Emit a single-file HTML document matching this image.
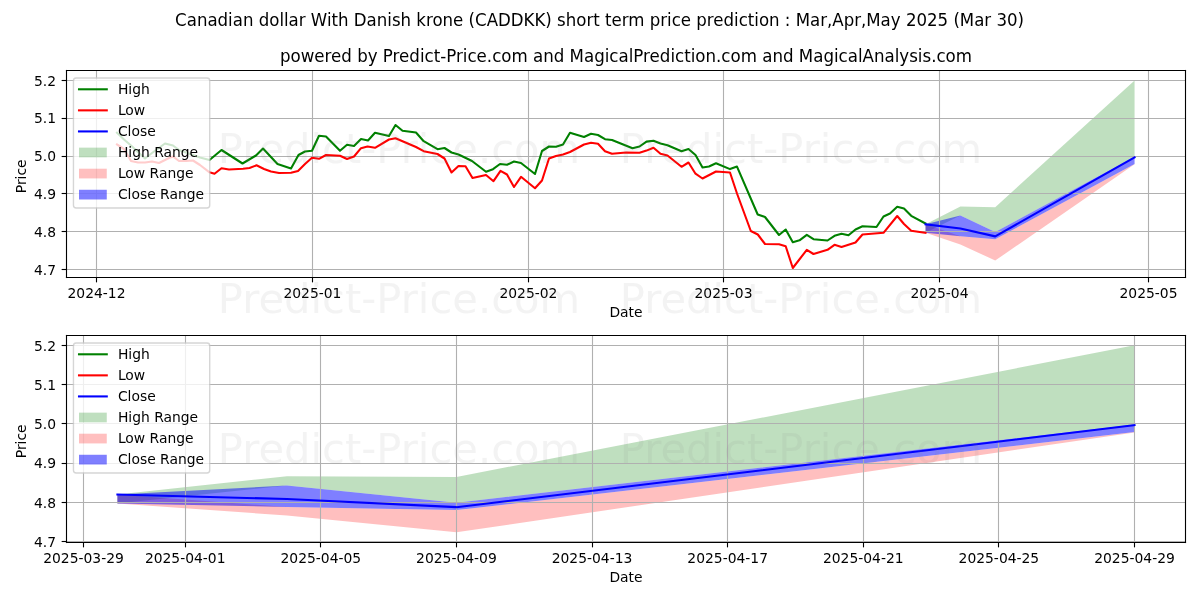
<!DOCTYPE html>
<html lang="en">
<head>
<meta charset="utf-8">
<title>CADDKK short term price prediction</title>
<style>
html,body{margin:0;padding:0;background:#ffffff;}
body{width:1200px;height:600px;overflow:hidden;font-family:"DejaVu Sans","Liberation Sans",sans-serif;}
svg{display:block;}
</style>
</head>
<body>
<svg width="1200" height="600" viewBox="0 0 864 432" version="1.1">
 
 <defs>
  <style type="text/css">*{stroke-linejoin: round; stroke-linecap: butt}</style>
 </defs>
 <g id="figure_1">
  <g id="patch_1">
   <path d="M 0 432 
L 864 432 
L 864 0 
L 0 0 
z
" style="fill: #ffffff"/>
  </g>
  <g id="axes_1">
   <g id="patch_2">
    <path d="M 47.88 199.8 
L 853.56 199.8 
L 853.56 50.76 
L 47.88 50.76 
z
" style="fill: #ffffff"/>
   </g>
   <g id="FillBetweenPolyCollection_1">
    <path d="M 666.402914 161.472276 
L 666.402914 167.597496 
L 691.483709 155.156494 
L 716.564503 167.053032 
L 816.887682 112.878864 
L 816.887682 57.888 
L 816.887682 57.888 
L 716.564503 149.249059 
L 691.483709 148.704595 
L 666.402914 161.472276 
z
" clip-path="url(#p3cd3cf3ed4)" style="fill: #008000; fill-opacity: 0.25"/>
   </g>
   <g id="FillBetweenPolyCollection_2">
    <path d="M 666.402914 161.472276 
L 666.402914 167.597496 
L 691.483709 175.955018 
L 716.564503 187.606548 
L 816.887682 118.323504 
L 816.887682 118.051272 
L 816.887682 118.051272 
L 716.564503 172.22544 
L 691.483709 170.074807 
L 666.402914 161.472276 
z
" clip-path="url(#p3cd3cf3ed4)" style="fill: #ff0000; fill-opacity: 0.25"/>
   </g>
   <g id="FillBetweenPolyCollection_3">
    <path d="M 666.402914 161.472276 
L 666.402914 167.597496 
L 691.483709 170.074807 
L 716.564503 172.22544 
L 816.887682 118.051272 
L 816.887682 112.878864 
L 816.887682 112.878864 
L 716.564503 167.053032 
L 691.483709 155.156494 
L 666.402914 161.472276 
z
" clip-path="url(#p3cd3cf3ed4)" style="fill: #0000ff; fill-opacity: 0.5"/>
   </g>
   <g id="matplotlib.axis_1">
    <g id="xtick_1">
     <g id="line2d_1">
      <path d="M 69.4800 199.8 L 69.4800 50.76" clip-path="url(#p3cd3cf3ed4)" style="fill: none; stroke: #b0b0b0; stroke-width: 0.8; stroke-linecap: square"/>
     </g>
     <g id="line2d_2">
      <defs>
       <path id="m1504cfccaf" d="M 0 0 
L 0 3.5 
" style="stroke: #000000; stroke-width: 0.8"/>
      </defs>
      <g>
       <use href="#m1504cfccaf" x="69.4800" y="199.8" style="stroke: #000000; stroke-width: 0.8"/>
      </g>
     </g>
     <g id="text_1">
      <text style="font-size: 10px; font-family: 'DejaVu Sans', 'Liberation Sans', sans-serif; text-anchor: middle" x="69.48" y="214.398438" transform="rotate(-0 69.48 214.398438)">2024-12</text>
     </g>
    </g>
    <g id="xtick_2">
     <g id="line2d_3">
      <path d="M 225.0000 199.8 L 225.0000 50.76" clip-path="url(#p3cd3cf3ed4)" style="fill: none; stroke: #b0b0b0; stroke-width: 0.8; stroke-linecap: square"/>
     </g>
     <g id="line2d_4">
      <g>
       <use href="#m1504cfccaf" x="225.0000" y="199.8" style="stroke: #000000; stroke-width: 0.8"/>
      </g>
     </g>
     <g id="text_2">
      <text style="font-size: 10px; font-family: 'DejaVu Sans', 'Liberation Sans', sans-serif; text-anchor: middle" x="224.980927" y="214.398438" transform="rotate(-0 224.980927 214.398438)">2025-01</text>
     </g>
    </g>
    <g id="xtick_3">
     <g id="line2d_5">
      <path d="M 380.5200 199.8 L 380.5200 50.76" clip-path="url(#p3cd3cf3ed4)" style="fill: none; stroke: #b0b0b0; stroke-width: 0.8; stroke-linecap: square"/>
     </g>
     <g id="line2d_6">
      <g>
       <use href="#m1504cfccaf" x="380.5200" y="199.8" style="stroke: #000000; stroke-width: 0.8"/>
      </g>
     </g>
     <g id="text_3">
      <text style="font-size: 10px; font-family: 'DejaVu Sans', 'Liberation Sans', sans-serif; text-anchor: middle" x="380.481854" y="214.398438" transform="rotate(-0 380.481854 214.398438)">2025-02</text>
     </g>
    </g>
    <g id="xtick_4">
     <g id="line2d_7">
      <path d="M 520.9200 199.8 L 520.9200 50.76" clip-path="url(#p3cd3cf3ed4)" style="fill: none; stroke: #b0b0b0; stroke-width: 0.8; stroke-linecap: square"/>
     </g>
     <g id="line2d_8">
      <g>
       <use href="#m1504cfccaf" x="520.9200" y="199.8" style="stroke: #000000; stroke-width: 0.8"/>
      </g>
     </g>
     <g id="text_4">
      <text style="font-size: 10px; font-family: 'DejaVu Sans', 'Liberation Sans', sans-serif; text-anchor: middle" x="520.934305" y="214.398438" transform="rotate(-0 520.934305 214.398438)">2025-03</text>
     </g>
    </g>
    <g id="xtick_5">
     <g id="line2d_9">
      <path d="M 676.4400 199.8 L 676.4400 50.76" clip-path="url(#p3cd3cf3ed4)" style="fill: none; stroke: #b0b0b0; stroke-width: 0.8; stroke-linecap: square"/>
     </g>
     <g id="line2d_10">
      <g>
       <use href="#m1504cfccaf" x="676.4400" y="199.8" style="stroke: #000000; stroke-width: 0.8"/>
      </g>
     </g>
     <g id="text_5">
      <text style="font-size: 10px; font-family: 'DejaVu Sans', 'Liberation Sans', sans-serif; text-anchor: middle" x="676.435232" y="214.398438" transform="rotate(-0 676.435232 214.398438)">2025-04</text>
     </g>
    </g>
    <g id="xtick_6">
     <g id="line2d_11">
      <path d="M 826.9200 199.8 L 826.9200 50.76" clip-path="url(#p3cd3cf3ed4)" style="fill: none; stroke: #b0b0b0; stroke-width: 0.8; stroke-linecap: square"/>
     </g>
     <g id="line2d_12">
      <g>
       <use href="#m1504cfccaf" x="826.9200" y="199.8" style="stroke: #000000; stroke-width: 0.8"/>
      </g>
     </g>
     <g id="text_6">
      <text style="font-size: 10px; font-family: 'DejaVu Sans', 'Liberation Sans', sans-serif; text-anchor: middle" x="826.92" y="214.398438" transform="rotate(-0 826.92 214.398438)">2025-05</text>
     </g>
    </g>
    <g id="text_7">
     <text style="font-size: 10px; font-family: 'DejaVu Sans', 'Liberation Sans', sans-serif; text-anchor: middle" x="450.72" y="228.076562" transform="rotate(-0 450.72 228.076562)">Date</text>
    </g>
   </g>
   <g id="matplotlib.axis_2">
    <g id="ytick_1">
     <g id="line2d_13">
      <path d="M 47.88 194.0400 L 853.56 194.0400" clip-path="url(#p3cd3cf3ed4)" style="fill: none; stroke: #b0b0b0; stroke-width: 0.8; stroke-linecap: square"/>
     </g>
     <g id="line2d_14">
      <defs>
       <path id="m5d545ce8f8" d="M 0 0 
L -3.5 0 
" style="stroke: #000000; stroke-width: 0.8"/>
      </defs>
      <g>
       <use href="#m5d545ce8f8" x="47.88" y="194.0400" style="stroke: #000000; stroke-width: 0.8"/>
      </g>
     </g>
     <g id="text_8">
      <text style="font-size: 10px; font-family: 'DejaVu Sans', 'Liberation Sans', sans-serif; text-anchor: end" x="40.38" y="197.803219" transform="rotate(-0 40.38 197.803219)">4.7</text>
     </g>
    </g>
    <g id="ytick_2">
     <g id="line2d_15">
      <path d="M 47.88 166.6800 L 853.56 166.6800" clip-path="url(#p3cd3cf3ed4)" style="fill: none; stroke: #b0b0b0; stroke-width: 0.8; stroke-linecap: square"/>
     </g>
     <g id="line2d_16">
      <g>
       <use href="#m5d545ce8f8" x="47.88" y="166.6800" style="stroke: #000000; stroke-width: 0.8"/>
      </g>
     </g>
     <g id="text_9">
      <text style="font-size: 10px; font-family: 'DejaVu Sans', 'Liberation Sans', sans-serif; text-anchor: end" x="40.38" y="170.580019" transform="rotate(-0 40.38 170.580019)">4.8</text>
     </g>
    </g>
    <g id="ytick_3">
     <g id="line2d_17">
      <path d="M 47.88 139.3200 L 853.56 139.3200" clip-path="url(#p3cd3cf3ed4)" style="fill: none; stroke: #b0b0b0; stroke-width: 0.8; stroke-linecap: square"/>
     </g>
     <g id="line2d_18">
      <g>
       <use href="#m5d545ce8f8" x="47.88" y="139.3200" style="stroke: #000000; stroke-width: 0.8"/>
      </g>
     </g>
     <g id="text_10">
      <text style="font-size: 10px; font-family: 'DejaVu Sans', 'Liberation Sans', sans-serif; text-anchor: end" x="40.38" y="143.356819" transform="rotate(-0 40.38 143.356819)">4.9</text>
     </g>
    </g>
    <g id="ytick_4">
     <g id="line2d_19">
      <path d="M 47.88 112.6800 L 853.56 112.6800" clip-path="url(#p3cd3cf3ed4)" style="fill: none; stroke: #b0b0b0; stroke-width: 0.8; stroke-linecap: square"/>
     </g>
     <g id="line2d_20">
      <g>
       <use href="#m5d545ce8f8" x="47.88" y="112.6800" style="stroke: #000000; stroke-width: 0.8"/>
      </g>
     </g>
     <g id="text_11">
      <text style="font-size: 10px; font-family: 'DejaVu Sans', 'Liberation Sans', sans-serif; text-anchor: end" x="40.38" y="116.133619" transform="rotate(-0 40.38 116.133619)">5.0</text>
     </g>
    </g>
    <g id="ytick_5">
     <g id="line2d_21">
      <path d="M 47.88 85.3200 L 853.56 85.3200" clip-path="url(#p3cd3cf3ed4)" style="fill: none; stroke: #b0b0b0; stroke-width: 0.8; stroke-linecap: square"/>
     </g>
     <g id="line2d_22">
      <g>
       <use href="#m5d545ce8f8" x="47.88" y="85.3200" style="stroke: #000000; stroke-width: 0.8"/>
      </g>
     </g>
     <g id="text_12">
      <text style="font-size: 10px; font-family: 'DejaVu Sans', 'Liberation Sans', sans-serif; text-anchor: end" x="40.38" y="88.910419" transform="rotate(-0 40.38 88.910419)">5.1</text>
     </g>
    </g>
    <g id="ytick_6">
     <g id="line2d_23">
      <path d="M 47.88 57.9600 L 853.56 57.9600" clip-path="url(#p3cd3cf3ed4)" style="fill: none; stroke: #b0b0b0; stroke-width: 0.8; stroke-linecap: square"/>
     </g>
     <g id="line2d_24">
      <g>
       <use href="#m5d545ce8f8" x="47.88" y="57.9600" style="stroke: #000000; stroke-width: 0.8"/>
      </g>
     </g>
     <g id="text_13">
      <text style="font-size: 10px; font-family: 'DejaVu Sans', 'Liberation Sans', sans-serif; text-anchor: end" x="40.38" y="61.687219" transform="rotate(-0 40.38 61.687219)">5.2</text>
     </g>
    </g>
    <g id="text_14">
     <text style="font-size: 10px; font-family: 'DejaVu Sans', 'Liberation Sans', sans-serif; text-anchor: middle" x="18.397188" y="126.936" transform="rotate(-90 18.397188 126.936)">Price</text>
    </g>
   </g>
   <g id="line2d_25">
    <path d="M 84.24 95.616 
L 89.28 100.44 
L 94.32 104.76 
L 104.4 114.12 
L 109.44 110.16 
L 118.8 103.32 
L 124.56 104.76 
L 128.88 108 
L 138.96 111.6 
L 144 113.4 
L 150.84 115.2 
L 159.48 108 
L 174.6 117.72 
L 184.32 111.96 
L 189.36 106.92 
L 199.8 118.08 
L 209.52 121.32 
L 214.92 111.6 
L 219.6 109.08 
L 224.64 108.576 
L 229.68 97.776 
L 234.72 98.28 
L 244.8 108.576 
L 249.84 104.256 
L 254.88 105.12 
L 259.92 100.08 
L 264.96 101.16 
L 270 95.616 
L 280.08 97.92 
L 284.76 90 
L 289.8 94.176 
L 299.52 95.4 
L 305.064 101.664 
L 315 107.424 
L 320.04 106.56 
L 325.08 109.8 
L 330.12 111.24 
L 339.84 115.92 
L 349.92 123.696 
L 354.96 121.824 
L 360 118.08 
L 365.04 118.656 
L 370.08 116.28 
L 375.12 117.36 
L 385.2 125.28 
L 390.24 108.72 
L 395.28 105.48 
L 400.32 105.696 
L 405.36 104.04 
L 410.4 95.616 
L 420.48 98.64 
L 425.52 96.336 
L 430.56 97.2 
L 435.6 100.224 
L 440.64 100.8 
L 455.4 106.704 
L 460.44 105.48 
L 465.48 101.952 
L 470.52 101.376 
L 475.56 103.32 
L 480.6 104.544 
L 490.68 108.864 
L 495.72 107.28 
L 500.76 111.6 
L 505.8 120.6 
L 510.48 119.88 
L 515.52 117.504 
L 525.6 121.752 
L 530.64 119.952 
L 545.544 154.44 
L 550.8 156.24 
L 560.88 169.2 
L 565.704 165.24 
L 570.816 174.384 
L 575.64 173.016 
L 580.896 169.056 
L 585.72 172.224 
L 595.8 173.16 
L 600.84 169.776 
L 605.88 168.264 
L 610.92 169.416 
L 615.96 165.24 
L 621 162.864 
L 631.08 163.44 
L 636.12 155.88 
L 640.8 153.72 
L 645.984 148.896 
L 650.88 150.12 
L 656.064 155.376 
L 666.36 160.92 
" clip-path="url(#p3cd3cf3ed4)" style="fill: none; stroke: #008000; stroke-width: 1.5; stroke-linecap: square"/>
   </g>
   <g id="line2d_26">
    <path d="M 84.24 104.04 
L 89.28 107.28 
L 94.32 115.92 
L 99.36 117 
L 104.4 117 
L 109.44 116.28 
L 114.48 117.36 
L 121.68 113.76 
L 124.56 112.68 
L 128.88 115.92 
L 133.92 115.92 
L 138.96 115.56 
L 144 118.8 
L 150.84 124.056 
L 154.44 125.136 
L 159.48 121.176 
L 164.88 122.04 
L 174.96 121.464 
L 179.64 120.96 
L 184.68 119.016 
L 190.08 121.68 
L 195.12 123.48 
L 200.88 124.56 
L 209.52 124.416 
L 214.56 123.12 
L 219.6 118.08 
L 224.64 113.616 
L 229.68 114.336 
L 234.72 111.6 
L 244.8 112.104 
L 249.84 114.48 
L 254.88 112.68 
L 259.92 106.704 
L 264.6 105.48 
L 270 106.416 
L 280.08 100.44 
L 284.76 99.504 
L 299.52 105.84 
L 305.064 108.864 
L 315 110.88 
L 320.04 114.12 
L 325.08 124.2 
L 330.12 119.52 
L 335.16 119.736 
L 340.2 128.16 
L 349.92 126 
L 355.32 130.464 
L 360.36 122.976 
L 365.04 125.64 
L 370.08 134.64 
L 375.12 127.296 
L 385.2 135.504 
L 390.24 129.96 
L 395.28 114.12 
L 400.32 112.32 
L 405.36 111.24 
L 410.4 109.44 
L 420.48 104.04 
L 425.52 102.816 
L 430.56 103.536 
L 435.6 108.864 
L 440.64 110.736 
L 450.72 109.8 
L 460.44 109.944 
L 465.48 108.432 
L 470.52 106.416 
L 475.56 110.736 
L 480.6 111.96 
L 490.68 120.096 
L 495.72 117 
L 500.76 125.064 
L 505.8 128.52 
L 515.52 123.48 
L 525.6 124.2 
L 530.64 139.32 
L 540.576 166.32 
L 545.616 168.84 
L 550.8 175.68 
L 560.88 175.896 
L 565.704 177.264 
L 570.816 192.96 
L 580.896 179.856 
L 585.72 182.88 
L 595.8 179.856 
L 600.84 176.256 
L 605.88 177.84 
L 615.96 174.6 
L 621 168.84 
L 636.12 167.616 
L 645.984 155.52 
L 650.88 161.28 
L 656.064 166.176 
L 666.36 167.616 
" clip-path="url(#p3cd3cf3ed4)" style="fill: none; stroke: #ff0000; stroke-width: 1.5; stroke-linecap: square"/>
   </g>
   <g id="line2d_27">
    <path d="M 666.402914 161.472276 
L 691.483709 164.521274 
L 716.564503 170.1837 
L 816.887682 113.287212 
" clip-path="url(#p3cd3cf3ed4)" style="fill: none; stroke: #0000ff; stroke-width: 1.5; stroke-linecap: square"/>
   </g>
   <g id="patch_3">
    <path d="M 47.88 199.8 
L 47.88 50.76 
" style="fill: none; stroke: #000000; stroke-width: 0.8; stroke-linejoin: miter; stroke-linecap: square"/>
   </g>
   <g id="patch_4">
    <path d="M 853.56 199.8 
L 853.56 50.76 
" style="fill: none; stroke: #000000; stroke-width: 0.8; stroke-linejoin: miter; stroke-linecap: square"/>
   </g>
   <g id="patch_5">
    <path d="M 47.88 199.8 
L 853.56 199.8 
" style="fill: none; stroke: #000000; stroke-width: 0.8; stroke-linejoin: miter; stroke-linecap: square"/>
   </g>
   <g id="patch_6">
    <path d="M 47.88 50.76 
L 853.56 50.76 
" style="fill: none; stroke: #000000; stroke-width: 0.8; stroke-linejoin: miter; stroke-linecap: square"/>
   </g>
   <g id="text_15">
    <text style="font-size: 12px; font-family: 'DejaVu Sans', 'Liberation Sans', sans-serif; text-anchor: middle" x="450.72" y="44.76" transform="translate(450.72 44.76) scale(1 1.08) translate(-450.72 -44.76)">powered by Predict-Price.com and MagicalPrediction.com and MagicalAnalysis.com</text>
   </g>
   <g id="legend_1">
    <g id="patch_7">
     <path d="M 54.88 149.71075 
L 148.990938 149.71075 
Q 150.990938 149.71075 150.990938 147.71075 
L 150.990938 58.192 
Q 150.990938 56.192 148.990938 56.192 
L 54.88 56.192 
Q 52.88 56.192 52.88 58.192 
L 52.88 147.71075 
Q 52.88 149.71075 54.88 149.71075 
z
" style="fill: #ffffff; opacity: 0.8; stroke: #cccccc; stroke-linejoin: miter"/>
    </g>
    <g id="line2d_28">
     <path d="M 56.88 64.290437 
L 66.88 64.290437 
L 76.88 64.290437 
" style="fill: none; stroke: #008000; stroke-width: 1.5; stroke-linecap: square"/>
    </g>
    <g id="text_16">
     <text style="font-size: 10px; font-family: 'DejaVu Sans', 'Liberation Sans', sans-serif; text-anchor: start" x="84.88" y="67.790437" transform="rotate(-0 84.88 67.790437)">High</text>
    </g>
    <g id="line2d_29">
     <path d="M 56.88 79.458562 
L 66.88 79.458562 
L 76.88 79.458562 
" style="fill: none; stroke: #ff0000; stroke-width: 1.5; stroke-linecap: square"/>
    </g>
    <g id="text_17">
     <text style="font-size: 10px; font-family: 'DejaVu Sans', 'Liberation Sans', sans-serif; text-anchor: start" x="84.88" y="82.958562" transform="rotate(-0 84.88 82.958562)">Low</text>
    </g>
    <g id="line2d_30">
     <path d="M 56.88 94.626688 
L 66.88 94.626688 
L 76.88 94.626688 
" style="fill: none; stroke: #0000ff; stroke-width: 1.5; stroke-linecap: square"/>
    </g>
    <g id="text_18">
     <text style="font-size: 10px; font-family: 'DejaVu Sans', 'Liberation Sans', sans-serif; text-anchor: start" x="84.88" y="98.126688" transform="rotate(-0 84.88 98.126688)">Close</text>
    </g>
    <g id="patch_8">
     <path d="M 56.88 113.294812 
L 76.88 113.294812 
L 76.88 106.294812 
L 56.88 106.294812 
z
" style="fill: #008000; fill-opacity: 0.25"/>
    </g>
    <g id="text_19">
     <text style="font-size: 10px; font-family: 'DejaVu Sans', 'Liberation Sans', sans-serif; text-anchor: start" x="84.88" y="113.294812" transform="rotate(-0 84.88 113.294812)">High Range</text>
    </g>
    <g id="patch_9">
     <path d="M 56.88 128.462938 
L 76.88 128.462938 
L 76.88 121.462938 
L 56.88 121.462938 
z
" style="fill: #ff0000; fill-opacity: 0.25"/>
    </g>
    <g id="text_20">
     <text style="font-size: 10px; font-family: 'DejaVu Sans', 'Liberation Sans', sans-serif; text-anchor: start" x="84.88" y="128.462938" transform="rotate(-0 84.88 128.462938)">Low Range</text>
    </g>
    <g id="patch_10">
     <path d="M 56.88 143.631062 
L 76.88 143.631062 
L 76.88 136.631062 
L 56.88 136.631062 
z
" style="fill: #0000ff; fill-opacity: 0.5"/>
    </g>
    <g id="text_21">
     <text style="font-size: 10px; font-family: 'DejaVu Sans', 'Liberation Sans', sans-serif; text-anchor: start" x="84.88" y="143.631062" transform="rotate(-0 84.88 143.631062)">Close Range</text>
    </g>
   </g>
  </g>
  <g id="axes_2">
   <g id="patch_11">
    <path d="M 47.88 390.6 
L 853.56 390.6 
L 853.56 241.56 
L 47.88 241.56 
z
" style="fill: #ffffff"/>
   </g>
   <g id="FillBetweenPolyCollection_4">
    <path d="M 84.530323 356.117904 
L 84.530323 362.474784 
L 206.581935 349.563254 
L 328.633548 361.909728 
L 816.84 305.686656 
L 816.84 248.616 
L 816.84 248.616 
L 328.633548 343.432397 
L 206.581935 342.867341 
L 84.530323 356.117904 
z
" clip-path="url(#pe5d304257f)" style="fill: #008000; fill-opacity: 0.25"/>
   </g>
   <g id="FillBetweenPolyCollection_5">
    <path d="M 84.530323 356.117904 
L 84.530323 362.474784 
L 206.581935 371.148394 
L 328.633548 383.240592 
L 816.84 311.337216 
L 816.84 311.054688 
L 816.84 311.054688 
L 328.633548 367.27776 
L 206.581935 365.045789 
L 84.530323 356.117904 
z
" clip-path="url(#pe5d304257f)" style="fill: #ff0000; fill-opacity: 0.25"/>
   </g>
   <g id="FillBetweenPolyCollection_6">
    <path d="M 84.530323 356.117904 
L 84.530323 362.474784 
L 206.581935 365.045789 
L 328.633548 367.27776 
L 816.84 311.054688 
L 816.84 305.686656 
L 816.84 305.686656 
L 328.633548 361.909728 
L 206.581935 349.563254 
L 84.530323 356.117904 
z
" clip-path="url(#pe5d304257f)" style="fill: #0000ff; fill-opacity: 0.5"/>
   </g>
   <g id="matplotlib.axis_3">
    <g id="xtick_7">
     <g id="line2d_31">
      <path d="M 60.1200 390.6 L 60.1200 241.56" clip-path="url(#pe5d304257f)" style="fill: none; stroke: #b0b0b0; stroke-width: 0.8; stroke-linecap: square"/>
     </g>
     <g id="line2d_32">
      <g>
       <use href="#m1504cfccaf" x="60.1200" y="390.6" style="stroke: #000000; stroke-width: 0.8"/>
      </g>
     </g>
     <g id="text_22">
      <text style="font-size: 10px; font-family: 'DejaVu Sans', 'Liberation Sans', sans-serif; text-anchor: middle" x="60.12" y="405.198438" transform="rotate(-0 60.12 405.198438)">2025-03-29</text>
     </g>
    </g>
    <g id="xtick_8">
     <g id="line2d_33">
      <path d="M 133.5600 390.6 L 133.5600 241.56" clip-path="url(#pe5d304257f)" style="fill: none; stroke: #b0b0b0; stroke-width: 0.8; stroke-linecap: square"/>
     </g>
     <g id="line2d_34">
      <g>
       <use href="#m1504cfccaf" x="133.5600" y="390.6" style="stroke: #000000; stroke-width: 0.8"/>
      </g>
     </g>
     <g id="text_23">
      <text style="font-size: 10px; font-family: 'DejaVu Sans', 'Liberation Sans', sans-serif; text-anchor: middle" x="133.350968" y="405.198438" transform="rotate(-0 133.350968 405.198438)">2025-04-01</text>
     </g>
    </g>
    <g id="xtick_9">
     <g id="line2d_35">
      <path d="M 230.7600 390.6 L 230.7600 241.56" clip-path="url(#pe5d304257f)" style="fill: none; stroke: #b0b0b0; stroke-width: 0.8; stroke-linecap: square"/>
     </g>
     <g id="line2d_36">
      <g>
       <use href="#m1504cfccaf" x="230.7600" y="390.6" style="stroke: #000000; stroke-width: 0.8"/>
      </g>
     </g>
     <g id="text_24">
      <text style="font-size: 10px; font-family: 'DejaVu Sans', 'Liberation Sans', sans-serif; text-anchor: middle" x="230.992258" y="405.198438" transform="rotate(-0 230.992258 405.198438)">2025-04-05</text>
     </g>
    </g>
    <g id="xtick_10">
     <g id="line2d_37">
      <path d="M 328.6800 390.6 L 328.6800 241.56" clip-path="url(#pe5d304257f)" style="fill: none; stroke: #b0b0b0; stroke-width: 0.8; stroke-linecap: square"/>
     </g>
     <g id="line2d_38">
      <g>
       <use href="#m1504cfccaf" x="328.6800" y="390.6" style="stroke: #000000; stroke-width: 0.8"/>
      </g>
     </g>
     <g id="text_25">
      <text style="font-size: 10px; font-family: 'DejaVu Sans', 'Liberation Sans', sans-serif; text-anchor: middle" x="328.633548" y="405.198438" transform="rotate(-0 328.633548 405.198438)">2025-04-09</text>
     </g>
    </g>
    <g id="xtick_11">
     <g id="line2d_39">
      <path d="M 426.6000 390.6 L 426.6000 241.56" clip-path="url(#pe5d304257f)" style="fill: none; stroke: #b0b0b0; stroke-width: 0.8; stroke-linecap: square"/>
     </g>
     <g id="line2d_40">
      <g>
       <use href="#m1504cfccaf" x="426.6000" y="390.6" style="stroke: #000000; stroke-width: 0.8"/>
      </g>
     </g>
     <g id="text_26">
      <text style="font-size: 10px; font-family: 'DejaVu Sans', 'Liberation Sans', sans-serif; text-anchor: middle" x="426.274839" y="405.198438" transform="rotate(-0 426.274839 405.198438)">2025-04-13</text>
     </g>
    </g>
    <g id="xtick_12">
     <g id="line2d_41">
      <path d="M 523.8000 390.6 L 523.8000 241.56" clip-path="url(#pe5d304257f)" style="fill: none; stroke: #b0b0b0; stroke-width: 0.8; stroke-linecap: square"/>
     </g>
     <g id="line2d_42">
      <g>
       <use href="#m1504cfccaf" x="523.8000" y="390.6" style="stroke: #000000; stroke-width: 0.8"/>
      </g>
     </g>
     <g id="text_27">
      <text style="font-size: 10px; font-family: 'DejaVu Sans', 'Liberation Sans', sans-serif; text-anchor: middle" x="523.916129" y="405.198438" transform="rotate(-0 523.916129 405.198438)">2025-04-17</text>
     </g>
    </g>
    <g id="xtick_13">
     <g id="line2d_43">
      <path d="M 621.7200 390.6 L 621.7200 241.56" clip-path="url(#pe5d304257f)" style="fill: none; stroke: #b0b0b0; stroke-width: 0.8; stroke-linecap: square"/>
     </g>
     <g id="line2d_44">
      <g>
       <use href="#m1504cfccaf" x="621.7200" y="390.6" style="stroke: #000000; stroke-width: 0.8"/>
      </g>
     </g>
     <g id="text_28">
      <text style="font-size: 10px; font-family: 'DejaVu Sans', 'Liberation Sans', sans-serif; text-anchor: middle" x="621.557419" y="405.198438" transform="rotate(-0 621.557419 405.198438)">2025-04-21</text>
     </g>
    </g>
    <g id="xtick_14">
     <g id="line2d_45">
      <path d="M 718.9200 390.6 L 718.9200 241.56" clip-path="url(#pe5d304257f)" style="fill: none; stroke: #b0b0b0; stroke-width: 0.8; stroke-linecap: square"/>
     </g>
     <g id="line2d_46">
      <g>
       <use href="#m1504cfccaf" x="718.9200" y="390.6" style="stroke: #000000; stroke-width: 0.8"/>
      </g>
     </g>
     <g id="text_29">
      <text style="font-size: 10px; font-family: 'DejaVu Sans', 'Liberation Sans', sans-serif; text-anchor: middle" x="719.19871" y="405.198438" transform="rotate(-0 719.19871 405.198438)">2025-04-25</text>
     </g>
    </g>
    <g id="xtick_15">
     <g id="line2d_47">
      <path d="M 816.8400 390.6 L 816.8400 241.56" clip-path="url(#pe5d304257f)" style="fill: none; stroke: #b0b0b0; stroke-width: 0.8; stroke-linecap: square"/>
     </g>
     <g id="line2d_48">
      <g>
       <use href="#m1504cfccaf" x="816.8400" y="390.6" style="stroke: #000000; stroke-width: 0.8"/>
      </g>
     </g>
     <g id="text_30">
      <text style="font-size: 10px; font-family: 'DejaVu Sans', 'Liberation Sans', sans-serif; text-anchor: middle" x="816.84" y="405.198438" transform="rotate(-0 816.84 405.198438)">2025-04-29</text>
     </g>
    </g>
    <g id="text_31">
     <text style="font-size: 10px; font-family: 'DejaVu Sans', 'Liberation Sans', sans-serif; text-anchor: middle" x="450.72" y="418.876562" transform="rotate(-0 450.72 418.876562)">Date</text>
    </g>
   </g>
   <g id="matplotlib.axis_4">
    <g id="ytick_7">
     <g id="line2d_49">
      <path d="M 47.88 389.8800 L 853.56 389.8800" clip-path="url(#pe5d304257f)" style="fill: none; stroke: #b0b0b0; stroke-width: 0.8; stroke-linecap: square"/>
     </g>
     <g id="line2d_50">
      <g>
       <use href="#m5d545ce8f8" x="47.88" y="389.8800" style="stroke: #000000; stroke-width: 0.8"/>
      </g>
     </g>
     <g id="text_32">
      <text style="font-size: 10px; font-family: 'DejaVu Sans', 'Liberation Sans', sans-serif; text-anchor: end" x="40.38" y="393.679219" transform="rotate(-0 40.38 393.679219)">4.7</text>
     </g>
    </g>
    <g id="ytick_8">
     <g id="line2d_51">
      <path d="M 47.88 361.8000 L 853.56 361.8000" clip-path="url(#pe5d304257f)" style="fill: none; stroke: #b0b0b0; stroke-width: 0.8; stroke-linecap: square"/>
     </g>
     <g id="line2d_52">
      <g>
       <use href="#m5d545ce8f8" x="47.88" y="361.8000" style="stroke: #000000; stroke-width: 0.8"/>
      </g>
     </g>
     <g id="text_33">
      <text style="font-size: 10px; font-family: 'DejaVu Sans', 'Liberation Sans', sans-serif; text-anchor: end" x="40.38" y="365.426419" transform="rotate(-0 40.38 365.426419)">4.8</text>
     </g>
    </g>
    <g id="ytick_9">
     <g id="line2d_53">
      <path d="M 47.88 333.7200 L 853.56 333.7200" clip-path="url(#pe5d304257f)" style="fill: none; stroke: #b0b0b0; stroke-width: 0.8; stroke-linecap: square"/>
     </g>
     <g id="line2d_54">
      <g>
       <use href="#m5d545ce8f8" x="47.88" y="333.7200" style="stroke: #000000; stroke-width: 0.8"/>
      </g>
     </g>
     <g id="text_34">
      <text style="font-size: 10px; font-family: 'DejaVu Sans', 'Liberation Sans', sans-serif; text-anchor: end" x="40.38" y="337.173619" transform="rotate(-0 40.38 337.173619)">4.9</text>
     </g>
    </g>
    <g id="ytick_10">
     <g id="line2d_55">
      <path d="M 47.88 304.9200 L 853.56 304.9200" clip-path="url(#pe5d304257f)" style="fill: none; stroke: #b0b0b0; stroke-width: 0.8; stroke-linecap: square"/>
     </g>
     <g id="line2d_56">
      <g>
       <use href="#m5d545ce8f8" x="47.88" y="304.9200" style="stroke: #000000; stroke-width: 0.8"/>
      </g>
     </g>
     <g id="text_35">
      <text style="font-size: 10px; font-family: 'DejaVu Sans', 'Liberation Sans', sans-serif; text-anchor: end" x="40.38" y="308.920819" transform="rotate(-0 40.38 308.920819)">5.0</text>
     </g>
    </g>
    <g id="ytick_11">
     <g id="line2d_57">
      <path d="M 47.88 276.8400 L 853.56 276.8400" clip-path="url(#pe5d304257f)" style="fill: none; stroke: #b0b0b0; stroke-width: 0.8; stroke-linecap: square"/>
     </g>
     <g id="line2d_58">
      <g>
       <use href="#m5d545ce8f8" x="47.88" y="276.8400" style="stroke: #000000; stroke-width: 0.8"/>
      </g>
     </g>
     <g id="text_36">
      <text style="font-size: 10px; font-family: 'DejaVu Sans', 'Liberation Sans', sans-serif; text-anchor: end" x="40.38" y="280.668019" transform="rotate(-0 40.38 280.668019)">5.1</text>
     </g>
    </g>
    <g id="ytick_12">
     <g id="line2d_59">
      <path d="M 47.88 248.7600 L 853.56 248.7600" clip-path="url(#pe5d304257f)" style="fill: none; stroke: #b0b0b0; stroke-width: 0.8; stroke-linecap: square"/>
     </g>
     <g id="line2d_60">
      <g>
       <use href="#m5d545ce8f8" x="47.88" y="248.7600" style="stroke: #000000; stroke-width: 0.8"/>
      </g>
     </g>
     <g id="text_37">
      <text style="font-size: 10px; font-family: 'DejaVu Sans', 'Liberation Sans', sans-serif; text-anchor: end" x="40.38" y="252.415219" transform="rotate(-0 40.38 252.415219)">5.2</text>
     </g>
    </g>
    <g id="text_38">
     <text style="font-size: 10px; font-family: 'DejaVu Sans', 'Liberation Sans', sans-serif; text-anchor: middle" x="18.397188" y="317.736" transform="rotate(-90 18.397188 317.736)">Price</text>
    </g>
   </g>
   <g id="line2d_61"/>
   <g id="line2d_62"/>
   <g id="line2d_63">
    <path d="M 84.530323 356.117904 
L 206.581935 359.282218 
L 328.633548 365.1588 
L 816.84 306.110448 
" clip-path="url(#pe5d304257f)" style="fill: none; stroke: #0000ff; stroke-width: 1.5; stroke-linecap: square"/>
   </g>
   <g id="patch_12">
    <path d="M 47.88 390.6 
L 47.88 241.56 
" style="fill: none; stroke: #000000; stroke-width: 0.8; stroke-linejoin: miter; stroke-linecap: square"/>
   </g>
   <g id="patch_13">
    <path d="M 853.56 390.6 
L 853.56 241.56 
" style="fill: none; stroke: #000000; stroke-width: 0.8; stroke-linejoin: miter; stroke-linecap: square"/>
   </g>
   <g id="patch_14">
    <path d="M 47.88 390.6 
L 853.56 390.6 
" style="fill: none; stroke: #000000; stroke-width: 0.8; stroke-linejoin: miter; stroke-linecap: square"/>
   </g>
   <g id="patch_15">
    <path d="M 47.88 241.56 
L 853.56 241.56 
" style="fill: none; stroke: #000000; stroke-width: 0.8; stroke-linejoin: miter; stroke-linecap: square"/>
   </g>
   <g id="legend_2">
    <g id="patch_16">
     <path d="M 54.88 340.51075 
L 148.990938 340.51075 
Q 150.990938 340.51075 150.990938 338.51075 
L 150.990938 248.992 
Q 150.990938 246.992 148.990938 246.992 
L 54.88 246.992 
Q 52.88 246.992 52.88 248.992 
L 52.88 338.51075 
Q 52.88 340.51075 54.88 340.51075 
z
" style="fill: #ffffff; opacity: 0.8; stroke: #cccccc; stroke-linejoin: miter"/>
    </g>
    <g id="line2d_64">
     <path d="M 56.88 255.090438 
L 66.88 255.090438 
L 76.88 255.090438 
" style="fill: none; stroke: #008000; stroke-width: 1.5; stroke-linecap: square"/>
    </g>
    <g id="text_39">
     <text style="font-size: 10px; font-family: 'DejaVu Sans', 'Liberation Sans', sans-serif; text-anchor: start" x="84.88" y="258.590438" transform="rotate(-0 84.88 258.590438)">High</text>
    </g>
    <g id="line2d_65">
     <path d="M 56.88 270.258563 
L 66.88 270.258563 
L 76.88 270.258563 
" style="fill: none; stroke: #ff0000; stroke-width: 1.5; stroke-linecap: square"/>
    </g>
    <g id="text_40">
     <text style="font-size: 10px; font-family: 'DejaVu Sans', 'Liberation Sans', sans-serif; text-anchor: start" x="84.88" y="273.758563" transform="rotate(-0 84.88 273.758563)">Low</text>
    </g>
    <g id="line2d_66">
     <path d="M 56.88 285.426688 
L 66.88 285.426688 
L 76.88 285.426688 
" style="fill: none; stroke: #0000ff; stroke-width: 1.5; stroke-linecap: square"/>
    </g>
    <g id="text_41">
     <text style="font-size: 10px; font-family: 'DejaVu Sans', 'Liberation Sans', sans-serif; text-anchor: start" x="84.88" y="288.926688" transform="rotate(-0 84.88 288.926688)">Close</text>
    </g>
    <g id="patch_17">
     <path d="M 56.88 304.094812 
L 76.88 304.094812 
L 76.88 297.094812 
L 56.88 297.094812 
z
" style="fill: #008000; fill-opacity: 0.25"/>
    </g>
    <g id="text_42">
     <text style="font-size: 10px; font-family: 'DejaVu Sans', 'Liberation Sans', sans-serif; text-anchor: start" x="84.88" y="304.094812" transform="rotate(-0 84.88 304.094812)">High Range</text>
    </g>
    <g id="patch_18">
     <path d="M 56.88 319.262938 
L 76.88 319.262938 
L 76.88 312.262938 
L 56.88 312.262938 
z
" style="fill: #ff0000; fill-opacity: 0.25"/>
    </g>
    <g id="text_43">
     <text style="font-size: 10px; font-family: 'DejaVu Sans', 'Liberation Sans', sans-serif; text-anchor: start" x="84.88" y="319.262938" transform="rotate(-0 84.88 319.262938)">Low Range</text>
    </g>
    <g id="patch_19">
     <path d="M 56.88 334.431062 
L 76.88 334.431062 
L 76.88 327.431062 
L 56.88 327.431062 
z
" style="fill: #0000ff; fill-opacity: 0.5"/>
    </g>
    <g id="text_44">
     <text style="font-size: 10px; font-family: 'DejaVu Sans', 'Liberation Sans', sans-serif; text-anchor: start" x="84.88" y="334.431062" transform="rotate(-0 84.88 334.431062)">Close Range</text>
    </g>
   </g>
  </g>
  <g id="text_45">
   <text style="font-size: 12px; font-family: 'DejaVu Sans', 'Liberation Sans', sans-serif; text-anchor: middle" x="432" y="17.7581" transform="translate(431.71 18.4781) scale(0.997 1.083) translate(-432 -17.7581)">Canadian dollar With Danish krone (CADDKK) short term price prediction : Mar,Apr,May 2025 (Mar 30)</text>
  </g>
  <g id="text_46">
   <text style="font-size: 30px; font-family: 'DejaVu Sans', 'Liberation Sans', sans-serif; text-anchor: middle; fill: #808080; opacity: 0.09" x="287.28" y="117.214125" transform="rotate(-0 287.28 117.214125)">Predict-Price.com</text>
  </g>
  <g id="text_47">
   <text style="font-size: 30px; font-family: 'DejaVu Sans', 'Liberation Sans', sans-serif; text-anchor: middle; fill: #808080; opacity: 0.09" x="576.72" y="117.214125" transform="rotate(-0 576.72 117.214125)">Predict-Price.com</text>
  </g>
  <g id="text_48">
   <text style="font-size: 30px; font-family: 'DejaVu Sans', 'Liberation Sans', sans-serif; text-anchor: middle; fill: #808080; opacity: 0.09" x="287.28" y="225.214125" transform="rotate(-0 287.28 225.214125)">Predict-Price.com</text>
  </g>
  <g id="text_49">
   <text style="font-size: 30px; font-family: 'DejaVu Sans', 'Liberation Sans', sans-serif; text-anchor: middle; fill: #808080; opacity: 0.09" x="576.72" y="225.214125" transform="rotate(-0 576.72 225.214125)">Predict-Price.com</text>
  </g>
  <g id="text_50">
   <text style="font-size: 30px; font-family: 'DejaVu Sans', 'Liberation Sans', sans-serif; text-anchor: middle; fill: #808080; opacity: 0.09" x="287.28" y="333.214125" transform="rotate(-0 287.28 333.214125)">Predict-Price.com</text>
  </g>
  <g id="text_51">
   <text style="font-size: 30px; font-family: 'DejaVu Sans', 'Liberation Sans', sans-serif; text-anchor: middle; fill: #808080; opacity: 0.09" x="576.72" y="333.214125" transform="rotate(-0 576.72 333.214125)">Predict-Price.com</text>
  </g>
 </g>
 <defs>
  <clipPath id="p3cd3cf3ed4">
   <rect x="47.88" y="50.76" width="805.68" height="149.04"/>
  </clipPath>
  <clipPath id="pe5d304257f">
   <rect x="47.88" y="241.56" width="805.68" height="149.04"/>
  </clipPath>
 </defs>
</svg>

</body>
</html>
